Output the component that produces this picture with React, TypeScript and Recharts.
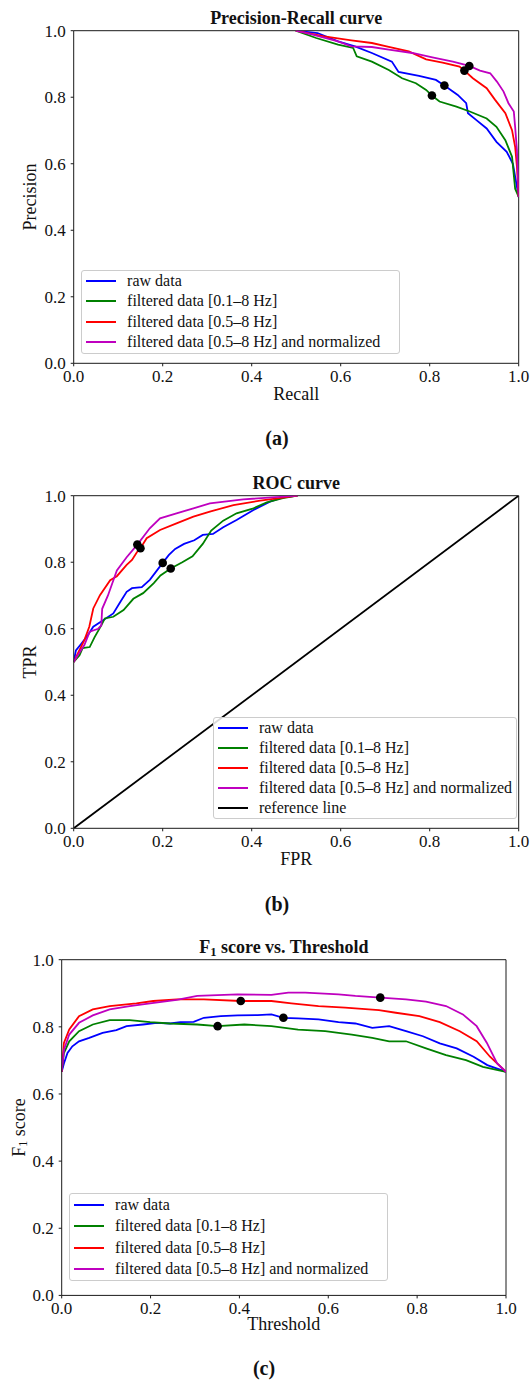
import React from "react";
import {
  ComposedChart,
  Label,
  Legend,
  Line,
  ReferenceLine,
  Scatter,
  XAxis,
  YAxis,
} from "recharts";

const FONT = "'Liberation Serif', 'DejaVu Serif', serif";
const AXIS_COLOR = "#1a1a1a";
const TEXT_COLOR = "#111";

const seriesNames = [
  "raw data",
  "filtered data [0.1–8 Hz]",
  "filtered data [0.5–8 Hz]",
  "filtered data [0.5–8 Hz] and normalized",
];
const seriesColors = ["#0000ff", "#008000", "#ff0000", "#bf00bf"];
const unitTicks = [0, 0.2, 0.4, 0.6, 0.8, 1];

// (a) precision vs recall
const prRaw = [
  [0.499, 1.0], [0.548, 0.993], [0.594, 0.968], [0.632, 0.953], [0.67, 0.933],
  [0.715, 0.907], [0.73, 0.876], [0.776, 0.864], [0.814, 0.852], [0.833, 0.835],
  [0.863, 0.807], [0.882, 0.782], [0.886, 0.752], [0.905, 0.731], [0.928, 0.706],
  [0.95, 0.666], [0.973, 0.636], [0.987, 0.6], [1.0, 0.5],
];
const prBand01 = [
  [0.499, 1.0], [0.545, 0.978], [0.594, 0.958], [0.628, 0.948], [0.636, 0.923],
  [0.67, 0.907], [0.708, 0.882], [0.738, 0.857], [0.769, 0.842], [0.792, 0.822],
  [0.805, 0.805], [0.822, 0.787], [0.86, 0.772], [0.89, 0.757], [0.928, 0.736],
  [0.95, 0.711], [0.97, 0.671], [0.985, 0.621], [0.992, 0.525], [1.0, 0.5],
];
const prBand05 = [
  [0.499, 1.0], [0.563, 0.983], [0.624, 0.971], [0.67, 0.963], [0.708, 0.951],
  [0.753, 0.938], [0.792, 0.914], [0.829, 0.904], [0.867, 0.892], [0.878, 0.88],
  [0.897, 0.857], [0.928, 0.827], [0.947, 0.792], [0.97, 0.752], [0.985, 0.701],
  [0.992, 0.651], [0.996, 0.591], [1.0, 0.5],
];
const prBand05Norm = [
  [0.499, 1.0], [0.533, 0.99], [0.594, 0.968], [0.624, 0.953], [0.67, 0.951],
  [0.708, 0.943], [0.761, 0.933], [0.806, 0.92], [0.852, 0.907], [0.889, 0.894],
  [0.913, 0.88], [0.936, 0.872], [0.951, 0.847], [0.966, 0.817], [0.977, 0.782],
  [0.989, 0.757], [0.992, 0.711], [0.996, 0.641], [1.0, 0.5],
];
const prBest = [[0.833, 0.835], [0.805, 0.805], [0.878, 0.88], [0.889, 0.894]];

// (b) ROC
const rocRaw = [
  [0, 0.5], [0.005, 0.535], [0.017, 0.555], [0.032, 0.581], [0.044, 0.606],
  [0.067, 0.626], [0.089, 0.646], [0.105, 0.681], [0.119, 0.711], [0.131, 0.722],
  [0.153, 0.725], [0.171, 0.747], [0.2, 0.798], [0.214, 0.822], [0.228, 0.84],
  [0.248, 0.855], [0.271, 0.866], [0.29, 0.882], [0.313, 0.885], [0.336, 0.905],
  [0.366, 0.927], [0.404, 0.957], [0.441, 0.982], [0.47, 0.995], [0.503, 1.0],
];
const rocBand01 = [
  [0, 0.5], [0.013, 0.52], [0.02, 0.542], [0.036, 0.545], [0.047, 0.575],
  [0.062, 0.61], [0.07, 0.631], [0.089, 0.636], [0.112, 0.656], [0.134, 0.69],
  [0.156, 0.707], [0.18, 0.737], [0.195, 0.76], [0.218, 0.781], [0.244, 0.8],
  [0.267, 0.818], [0.29, 0.855], [0.309, 0.895], [0.336, 0.925], [0.366, 0.947],
  [0.404, 0.962], [0.434, 0.98], [0.47, 0.993], [0.503, 1.0],
];
const rocBand05 = [
  [0, 0.5], [0.009, 0.525], [0.024, 0.566], [0.035, 0.606], [0.044, 0.661],
  [0.059, 0.701], [0.082, 0.746], [0.097, 0.758], [0.119, 0.792], [0.131, 0.807],
  [0.142, 0.83], [0.15, 0.842], [0.164, 0.872], [0.194, 0.897], [0.231, 0.917],
  [0.269, 0.937], [0.306, 0.952], [0.359, 0.972], [0.419, 0.985], [0.503, 1.0],
];
const rocBand05Norm = [
  [0, 0.5], [0.009, 0.52], [0.024, 0.551], [0.036, 0.591], [0.055, 0.6],
  [0.062, 0.61], [0.064, 0.66], [0.077, 0.7], [0.097, 0.775], [0.119, 0.815],
  [0.143, 0.853], [0.171, 0.902], [0.194, 0.932], [0.231, 0.947], [0.269, 0.962],
  [0.306, 0.977], [0.381, 0.989], [0.503, 1.0],
];
const rocReference = [[0, 0], [1, 1]];
const rocBest = [[0.2, 0.798], [0.218, 0.781], [0.15, 0.842], [0.143, 0.853]];

// (c) F1 vs threshold
const f1Raw = [
  [0, 0.666], [0.005, 0.691], [0.013, 0.722], [0.024, 0.742], [0.039, 0.757],
  [0.062, 0.767], [0.092, 0.782], [0.123, 0.79], [0.146, 0.802], [0.183, 0.807],
  [0.214, 0.812], [0.244, 0.81], [0.267, 0.814], [0.297, 0.815], [0.32, 0.827],
  [0.358, 0.832], [0.396, 0.834], [0.441, 0.835], [0.472, 0.837], [0.499, 0.827],
  [0.532, 0.825], [0.578, 0.822], [0.623, 0.814], [0.661, 0.81], [0.699, 0.797],
  [0.737, 0.802], [0.775, 0.787], [0.813, 0.772], [0.851, 0.751], [0.889, 0.736],
  [0.927, 0.711], [0.958, 0.686], [1.0, 0.666],
];
const f1Band01 = [
  [0, 0.666], [0.005, 0.722], [0.017, 0.757], [0.039, 0.787], [0.07, 0.807],
  [0.108, 0.82], [0.153, 0.82], [0.199, 0.814], [0.244, 0.81], [0.305, 0.807],
  [0.351, 0.802], [0.411, 0.807], [0.472, 0.802], [0.532, 0.792], [0.593, 0.787],
  [0.653, 0.777], [0.699, 0.767], [0.737, 0.757], [0.775, 0.757], [0.82, 0.736],
  [0.865, 0.716], [0.91, 0.701], [0.948, 0.681], [1.0, 0.666],
];
const f1Band05 = [
  [0, 0.666], [0.005, 0.752], [0.017, 0.792], [0.039, 0.832], [0.07, 0.852],
  [0.108, 0.862], [0.168, 0.87], [0.206, 0.877], [0.259, 0.882], [0.32, 0.882],
  [0.403, 0.877], [0.472, 0.877], [0.517, 0.87], [0.578, 0.862], [0.638, 0.857],
  [0.714, 0.85], [0.752, 0.842], [0.805, 0.832], [0.851, 0.814], [0.896, 0.787],
  [0.934, 0.757], [0.964, 0.711], [1.0, 0.666],
];
const f1Band05Norm = [
  [0, 0.666], [0.005, 0.731], [0.017, 0.777], [0.039, 0.812], [0.07, 0.834],
  [0.108, 0.852], [0.153, 0.862], [0.199, 0.87], [0.259, 0.88], [0.305, 0.892],
  [0.396, 0.897], [0.472, 0.895], [0.51, 0.902], [0.548, 0.902], [0.623, 0.897],
  [0.661, 0.892], [0.717, 0.887], [0.775, 0.882], [0.82, 0.875], [0.865, 0.862],
  [0.903, 0.837], [0.934, 0.802], [0.957, 0.752], [0.98, 0.691], [1.0, 0.666],
];
const f1Best = [[0.499, 0.827], [0.351, 0.802], [0.403, 0.877], [0.717, 0.887]];

const toXY = (pts: number[][]) => pts.map(([x, y]) => ({ x, y }));
const fmt = (v: number) => v.toFixed(1);

type SeriesDef = { name: string; color: string; points: number[][] };

const fourSeries = (lists: number[][][]): SeriesDef[] =>
  lists.map((points, i) => ({ name: seriesNames[i], color: seriesColors[i], points }));

function LegendBox({ payload, rowHeight, order }: any) {
  const items = (payload ?? [])
    .filter((p: any) => p.type !== "none")
    .sort((a: any, b: any) => order.indexOf(a.value) - order.indexOf(b.value));
  return (
    <div
      style={{
        border: "1px solid #cccccc",
        borderRadius: 3,
        background: "rgba(255,255,255,0.85)",
        fontFamily: FONT,
        fontSize: 16,
        color: TEXT_COLOR,
      }}
    >
      {items.map((item: any) => (
        <div
          key={item.value}
          style={{ height: rowHeight, display: "flex", alignItems: "center", whiteSpace: "nowrap" }}
        >
          <span style={{ width: 30, height: 2.2, marginLeft: 4, marginRight: 11, background: item.color }} />
          <span>{item.value}</span>
        </div>
      ))}
    </div>
  );
}

function YTitle({ viewBox, x, text, sub, rest }: any) {
  const cy = viewBox.y + viewBox.height / 2;
  return (
    <text
      x={x}
      y={cy}
      transform={`rotate(-90 ${x} ${cy})`}
      textAnchor="middle"
      dominantBaseline="central"
      fontFamily={FONT}
      fontSize={18}
      fill={TEXT_COLOR}
    >
      {text}
      {sub && (
        <>
          <tspan dy={4} fontSize={12}>{sub}</tspan>
          <tspan dy={-4}>{rest}</tspan>
        </>
      )}
    </text>
  );
}

const BestDot = (props: any) => <circle cx={props.cx} cy={props.cy} r={4.3} fill="#000" />;

type PanelLayout = {
  top: number;
  plotLeft: number;
  plotRight: number;
  plotBottom: number;
  xLabelOffset: number;
  yTitleX: number;
  legend: { left: number; top: number; width: number; rowHeight: number };
};

const CHART_H = 420;
const PLOT_TOP = 30.7;

function Panel({
  layout,
  title,
  xLabel,
  yTitle,
  series,
  best,
}: {
  layout: PanelLayout;
  title: React.ReactNode;
  xLabel: string;
  yTitle: { text: string; sub?: string; rest?: string };
  series: SeriesDef[];
  best: number[][];
}) {
  const L = layout;
  const order = series.map((s) => s.name);
  return (
    <div style={{ position: "absolute", left: 0, top: L.top, width: 530, height: CHART_H }}>
      <div
        style={{
          position: "absolute",
          left: L.plotLeft,
          width: L.plotRight - L.plotLeft,
          top: 7.5,
          lineHeight: "20px",
          textAlign: "center",
          fontFamily: FONT,
          fontWeight: "bold",
          fontSize: 18,
          color: TEXT_COLOR,
          zIndex: 2,
        }}
      >
        {title}
      </div>
      <ComposedChart
        width={530}
        height={CHART_H}
        margin={{ top: PLOT_TOP, right: 530 - L.plotRight, bottom: CHART_H - L.plotBottom - 40, left: 0 }}
      >
        <XAxis
          dataKey="x"
          type="number"
          domain={[0, 1]}
          ticks={unitTicks}
          interval={0}
          allowDataOverflow
          tickFormatter={fmt}
          height={40}
          tickSize={3}
          tickMargin={4}
          stroke={AXIS_COLOR}
          tick={{ fill: TEXT_COLOR, fontSize: 17, fontFamily: FONT }}
        >
          <Label
            value={xLabel}
            position="insideBottom"
            offset={L.xLabelOffset}
            style={{ fontSize: 18, fontFamily: FONT, fill: TEXT_COLOR }}
          />
        </XAxis>
        <YAxis
          dataKey="y"
          type="number"
          domain={[0, 1]}
          ticks={unitTicks}
          interval={0}
          allowDataOverflow
          tickFormatter={fmt}
          width={L.plotLeft}
          tickSize={3}
          tickMargin={5}
          stroke={AXIS_COLOR}
          tick={{ fill: TEXT_COLOR, fontSize: 17, fontFamily: FONT }}
        >
          <Label
            content={(p: any) => (
              <YTitle viewBox={p.viewBox} x={L.yTitleX} text={yTitle.text} sub={yTitle.sub} rest={yTitle.rest} />
            )}
          />
        </YAxis>
        {/* top and right frame lines */}
        <ReferenceLine y={1} stroke={AXIS_COLOR} strokeWidth={1} />
        <ReferenceLine x={1} stroke={AXIS_COLOR} strokeWidth={1} />
        {series.map((s) => (
          <Line
            key={s.name}
            data={toXY(s.points)}
            dataKey="y"
            name={s.name}
            type="linear"
            stroke={s.color}
            strokeWidth={1.8}
            dot={false}
            activeDot={false}
            isAnimationActive={false}
          />
        ))}
        <Scatter
          data={toXY(best)}
          dataKey="y"
          name="best threshold"
          legendType="none"
          shape={BestDot}
          isAnimationActive={false}
        />
        <Legend
          layout="horizontal"
          verticalAlign="middle"
          align="center"
          wrapperStyle={{ left: L.legend.left, top: L.legend.top, width: L.legend.width, height: "auto" }}
          content={(p: any) => <LegendBox payload={p.payload} rowHeight={L.legend.rowHeight} order={order} />}
        />
      </ComposedChart>
    </div>
  );
}

const layoutA: PanelLayout = {
  top: 0, plotLeft: 73.7, plotRight: 518.7, plotBottom: 363.3, xLabelOffset: 3.3, yTitleX: 30.4,
  legend: { left: 81.1, top: 269.6, width: 319.3, rowHeight: 20.5 },
};
const layoutB: PanelLayout = {
  top: 465, plotLeft: 73.7, plotRight: 518.7, plotBottom: 363.3, xLabelOffset: 3.3, yTitleX: 30.4,
  legend: { left: 212.9, top: 252.1, width: 304, rowHeight: 20 },
};
const layoutC: PanelLayout = {
  top: 929.3, plotLeft: 61.7, plotRight: 506, plotBottom: 366.4, xLabelOffset: 5.5, yTitleX: 18.6,
  legend: { left: 69.1, top: 263.8, width: 318.6, rowHeight: 21.5 },
};

function Caption({ text, cx, cy }: { text: string; cx: number; cy: number }) {
  return (
    <div
      style={{
        position: "absolute",
        left: cx - 30,
        width: 60,
        top: cy - 12,
        lineHeight: "24px",
        textAlign: "center",
        fontFamily: FONT,
        fontWeight: "bold",
        fontSize: 20,
        color: TEXT_COLOR,
      }}
    >
      {text}
    </div>
  );
}

export default function App() {
  const rocSeries: SeriesDef[] = [
    ...fourSeries([rocRaw, rocBand01, rocBand05, rocBand05Norm]),
    { name: "reference line", color: "#000000", points: rocReference },
  ];
  return (
    <div style={{ position: "absolute", left: 0, top: 0, width: 530, height: 1382, background: "#fff" }}>
      <Panel
        layout={layoutA}
        title="Precision-Recall curve"
        xLabel="Recall"
        yTitle={{ text: "Precision" }}
        series={fourSeries([prRaw, prBand01, prBand05, prBand05Norm])}
        best={prBest}
      />
      <Caption text="(a)" cx={277} cy={437.5} />
      <Panel
        layout={layoutB}
        title="ROC curve"
        xLabel="FPR"
        yTitle={{ text: "TPR" }}
        series={rocSeries}
        best={rocBest}
      />
      <Caption text="(b)" cx={277} cy={904} />
      <Panel
        layout={layoutC}
        title={
          <span>
            F<sub style={{ fontSize: "0.7em", verticalAlign: "-0.25em", lineHeight: 0 }}>1</sub> score vs. Threshold
          </span>
        }
        xLabel="Threshold"
        yTitle={{ text: "F", sub: "1", rest: " score" }}
        series={fourSeries([f1Raw, f1Band01, f1Band05, f1Band05Norm])}
        best={f1Best}
      />
      <Caption text="(c)" cx={264} cy={1367.7} />
    </div>
  );
}
